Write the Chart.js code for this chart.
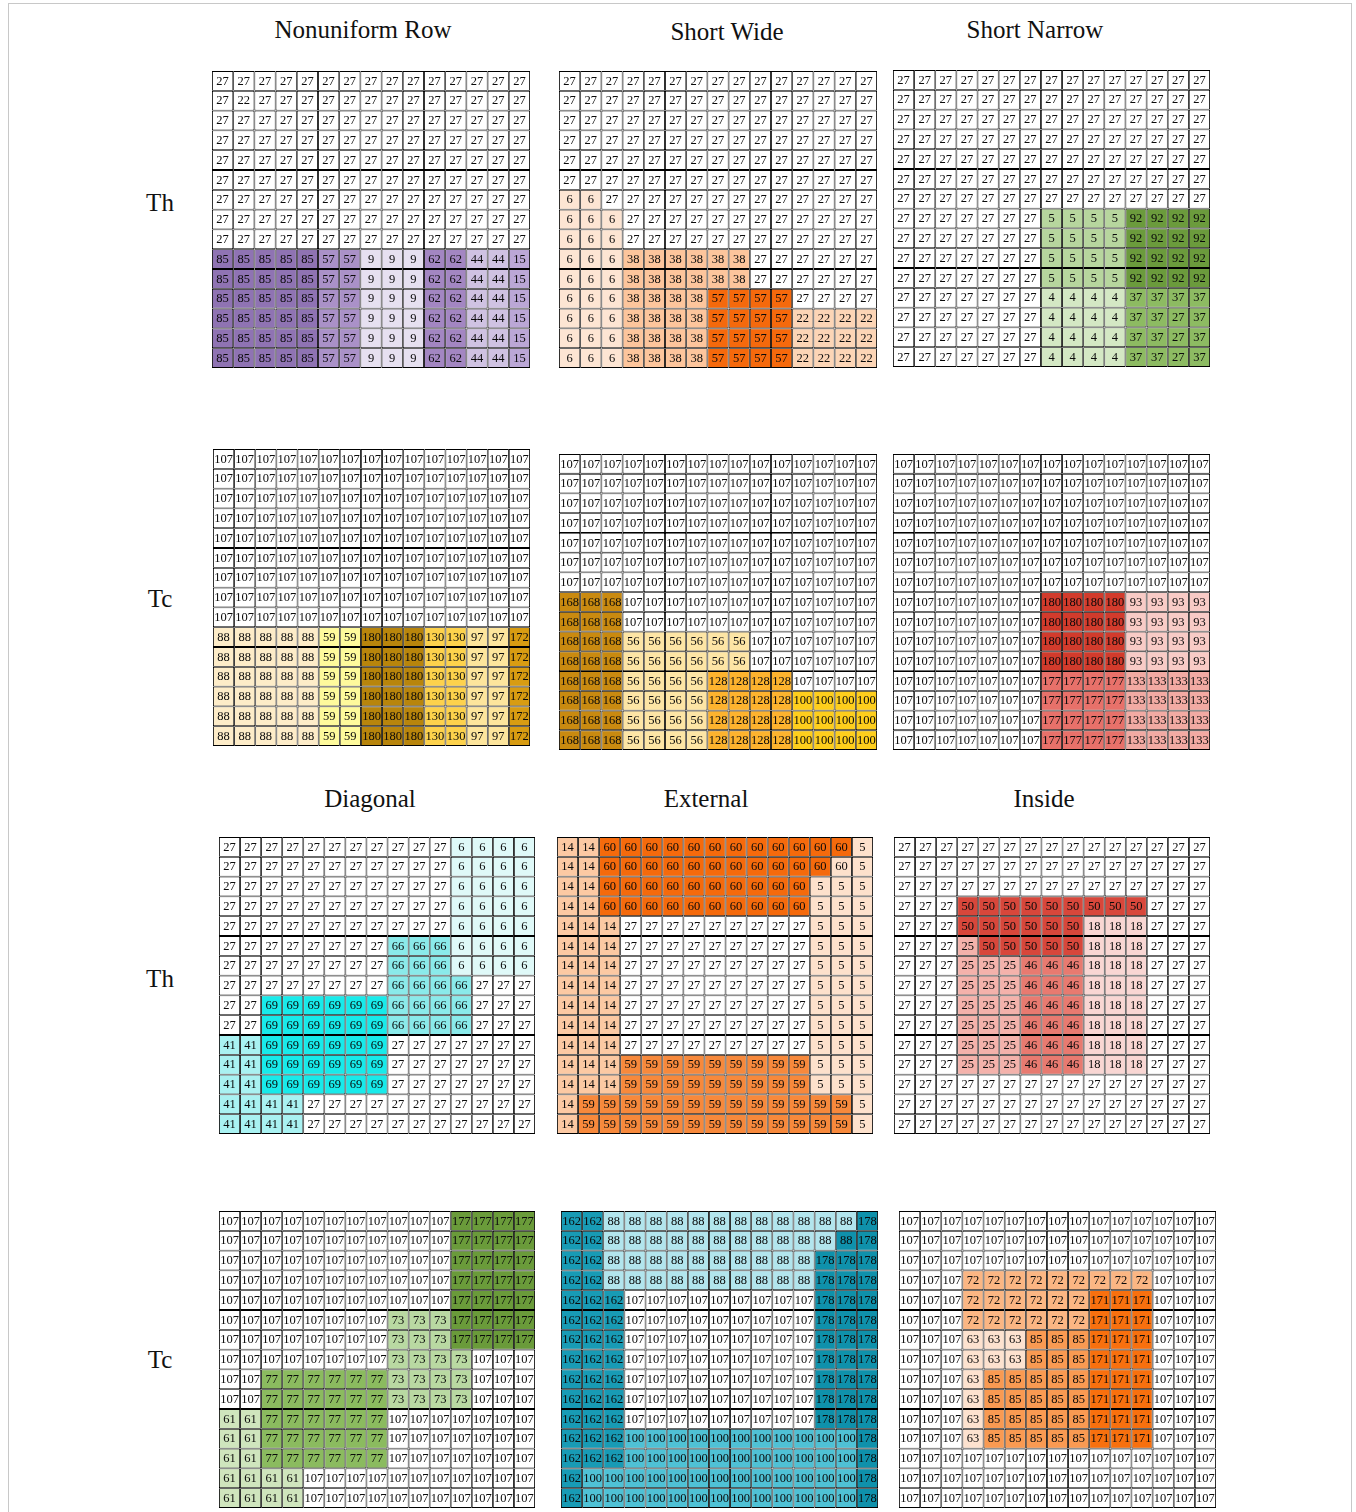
<!DOCTYPE html>
<html>
<head>
<meta charset="utf-8">
<script src="https://cdn.jsdelivr.net/npm/chart.js@4.4.1/dist/chart.umd.min.js"></script>
<style>
  html, body { margin: 0; padding: 0; background: #fff; }
  #page { position: relative; width: 1356px; height: 1512px; overflow: hidden; background: #fff; }
  #frame { position: absolute; left: 8px; top: 3px; width: 1342px; height: 1530px; border: 1px solid #c8c8c8; }
  .title { position: absolute; transform: translate(-50%, -50%); font-family: "Liberation Serif", "DejaVu Serif", serif; font-size: 25px; color: #111; white-space: nowrap; }
  canvas { position: absolute; }
</style>
</head>
<body>
<div id="page">
  <div id="frame"></div>
</div>
<script>
// ---- Column titles and row labels ----
const columnTitlesTop = ["Nonuniform Row", "Short Wide", "Short Narrow"];
const columnTitlesBottom = ["Diagonal", "External", "Inside"];
const rowLabels = ["Th", "Tc", "Th", "Tc"];

// ---- Cell values (15 rows x 15 columns each) ----
const nonuniformRowTh = [
  [27,27,27,27,27,27,27,27,27,27,27,27,27,27,27],
  [27,22,27,27,27,27,27,27,27,27,27,27,27,27,27],
  [27,27,27,27,27,27,27,27,27,27,27,27,27,27,27],
  [27,27,27,27,27,27,27,27,27,27,27,27,27,27,27],
  [27,27,27,27,27,27,27,27,27,27,27,27,27,27,27],
  [27,27,27,27,27,27,27,27,27,27,27,27,27,27,27],
  [27,27,27,27,27,27,27,27,27,27,27,27,27,27,27],
  [27,27,27,27,27,27,27,27,27,27,27,27,27,27,27],
  [27,27,27,27,27,27,27,27,27,27,27,27,27,27,27],
  [85,85,85,85,85,57,57,9,9,9,62,62,44,44,15],
  [85,85,85,85,85,57,57,9,9,9,62,62,44,44,15],
  [85,85,85,85,85,57,57,9,9,9,62,62,44,44,15],
  [85,85,85,85,85,57,57,9,9,9,62,62,44,44,15],
  [85,85,85,85,85,57,57,9,9,9,62,62,44,44,15],
  [85,85,85,85,85,57,57,9,9,9,62,62,44,44,15]
];
const shortWideTh = [
  [27,27,27,27,27,27,27,27,27,27,27,27,27,27,27],
  [27,27,27,27,27,27,27,27,27,27,27,27,27,27,27],
  [27,27,27,27,27,27,27,27,27,27,27,27,27,27,27],
  [27,27,27,27,27,27,27,27,27,27,27,27,27,27,27],
  [27,27,27,27,27,27,27,27,27,27,27,27,27,27,27],
  [27,27,27,27,27,27,27,27,27,27,27,27,27,27,27],
  [6,6,27,27,27,27,27,27,27,27,27,27,27,27,27],
  [6,6,6,27,27,27,27,27,27,27,27,27,27,27,27],
  [6,6,6,27,27,27,27,27,27,27,27,27,27,27,27],
  [6,6,6,38,38,38,38,38,38,27,27,27,27,27,27],
  [6,6,6,38,38,38,38,38,38,27,27,27,27,27,27],
  [6,6,6,38,38,38,38,57,57,57,57,27,27,27,27],
  [6,6,6,38,38,38,38,57,57,57,57,22,22,22,22],
  [6,6,6,38,38,38,38,57,57,57,57,22,22,22,22],
  [6,6,6,38,38,38,38,57,57,57,57,22,22,22,22]
];
const shortNarrowTh = [
  [27,27,27,27,27,27,27,27,27,27,27,27,27,27,27],
  [27,27,27,27,27,27,27,27,27,27,27,27,27,27,27],
  [27,27,27,27,27,27,27,27,27,27,27,27,27,27,27],
  [27,27,27,27,27,27,27,27,27,27,27,27,27,27,27],
  [27,27,27,27,27,27,27,27,27,27,27,27,27,27,27],
  [27,27,27,27,27,27,27,27,27,27,27,27,27,27,27],
  [27,27,27,27,27,27,27,27,27,27,27,27,27,27,27],
  [27,27,27,27,27,27,27,5,5,5,5,92,92,92,92],
  [27,27,27,27,27,27,27,5,5,5,5,92,92,92,92],
  [27,27,27,27,27,27,27,5,5,5,5,92,92,92,92],
  [27,27,27,27,27,27,27,5,5,5,5,92,92,92,92],
  [27,27,27,27,27,27,27,4,4,4,4,37,37,37,37],
  [27,27,27,27,27,27,27,4,4,4,4,37,37,27,37],
  [27,27,27,27,27,27,27,4,4,4,4,37,37,27,37],
  [27,27,27,27,27,27,27,4,4,4,4,37,37,27,37]
];
const nonuniformRowTc = [
  [107,107,107,107,107,107,107,107,107,107,107,107,107,107,107],
  [107,107,107,107,107,107,107,107,107,107,107,107,107,107,107],
  [107,107,107,107,107,107,107,107,107,107,107,107,107,107,107],
  [107,107,107,107,107,107,107,107,107,107,107,107,107,107,107],
  [107,107,107,107,107,107,107,107,107,107,107,107,107,107,107],
  [107,107,107,107,107,107,107,107,107,107,107,107,107,107,107],
  [107,107,107,107,107,107,107,107,107,107,107,107,107,107,107],
  [107,107,107,107,107,107,107,107,107,107,107,107,107,107,107],
  [107,107,107,107,107,107,107,107,107,107,107,107,107,107,107],
  [88,88,88,88,88,59,59,180,180,180,130,130,97,97,172],
  [88,88,88,88,88,59,59,180,180,180,130,130,97,97,172],
  [88,88,88,88,88,59,59,180,180,180,130,130,97,97,172],
  [88,88,88,88,88,59,59,180,180,180,130,130,97,97,172],
  [88,88,88,88,88,59,59,180,180,180,130,130,97,97,172],
  [88,88,88,88,88,59,59,180,180,180,130,130,97,97,172]
];
const shortWideTc = [
  [107,107,107,107,107,107,107,107,107,107,107,107,107,107,107],
  [107,107,107,107,107,107,107,107,107,107,107,107,107,107,107],
  [107,107,107,107,107,107,107,107,107,107,107,107,107,107,107],
  [107,107,107,107,107,107,107,107,107,107,107,107,107,107,107],
  [107,107,107,107,107,107,107,107,107,107,107,107,107,107,107],
  [107,107,107,107,107,107,107,107,107,107,107,107,107,107,107],
  [107,107,107,107,107,107,107,107,107,107,107,107,107,107,107],
  [168,168,168,107,107,107,107,107,107,107,107,107,107,107,107],
  [168,168,168,107,107,107,107,107,107,107,107,107,107,107,107],
  [168,168,168,56,56,56,56,56,56,107,107,107,107,107,107],
  [168,168,168,56,56,56,56,56,56,107,107,107,107,107,107],
  [168,168,168,56,56,56,56,128,128,128,128,107,107,107,107],
  [168,168,168,56,56,56,56,128,128,128,128,100,100,100,100],
  [168,168,168,56,56,56,56,128,128,128,128,100,100,100,100],
  [168,168,168,56,56,56,56,128,128,128,128,100,100,100,100]
];
const shortNarrowTc = [
  [107,107,107,107,107,107,107,107,107,107,107,107,107,107,107],
  [107,107,107,107,107,107,107,107,107,107,107,107,107,107,107],
  [107,107,107,107,107,107,107,107,107,107,107,107,107,107,107],
  [107,107,107,107,107,107,107,107,107,107,107,107,107,107,107],
  [107,107,107,107,107,107,107,107,107,107,107,107,107,107,107],
  [107,107,107,107,107,107,107,107,107,107,107,107,107,107,107],
  [107,107,107,107,107,107,107,107,107,107,107,107,107,107,107],
  [107,107,107,107,107,107,107,180,180,180,180,93,93,93,93],
  [107,107,107,107,107,107,107,180,180,180,180,93,93,93,93],
  [107,107,107,107,107,107,107,180,180,180,180,93,93,93,93],
  [107,107,107,107,107,107,107,180,180,180,180,93,93,93,93],
  [107,107,107,107,107,107,107,177,177,177,177,133,133,133,133],
  [107,107,107,107,107,107,107,177,177,177,177,133,133,133,133],
  [107,107,107,107,107,107,107,177,177,177,177,133,133,133,133],
  [107,107,107,107,107,107,107,177,177,177,177,133,133,133,133]
];
const diagonalTh = [
  [27,27,27,27,27,27,27,27,27,27,27,6,6,6,6],
  [27,27,27,27,27,27,27,27,27,27,27,6,6,6,6],
  [27,27,27,27,27,27,27,27,27,27,27,6,6,6,6],
  [27,27,27,27,27,27,27,27,27,27,27,6,6,6,6],
  [27,27,27,27,27,27,27,27,27,27,27,6,6,6,6],
  [27,27,27,27,27,27,27,27,66,66,66,6,6,6,6],
  [27,27,27,27,27,27,27,27,66,66,66,6,6,6,6],
  [27,27,27,27,27,27,27,27,66,66,66,66,27,27,27],
  [27,27,69,69,69,69,69,69,66,66,66,66,27,27,27],
  [27,27,69,69,69,69,69,69,66,66,66,66,27,27,27],
  [41,41,69,69,69,69,69,69,27,27,27,27,27,27,27],
  [41,41,69,69,69,69,69,69,27,27,27,27,27,27,27],
  [41,41,69,69,69,69,69,69,27,27,27,27,27,27,27],
  [41,41,41,41,27,27,27,27,27,27,27,27,27,27,27],
  [41,41,41,41,27,27,27,27,27,27,27,27,27,27,27]
];
const externalTh = [
  [14,14,60,60,60,60,60,60,60,60,60,60,60,60,5],
  [14,14,60,60,60,60,60,60,60,60,60,60,60,60,5],
  [14,14,60,60,60,60,60,60,60,60,60,60,5,5,5],
  [14,14,60,60,60,60,60,60,60,60,60,60,5,5,5],
  [14,14,14,27,27,27,27,27,27,27,27,27,5,5,5],
  [14,14,14,27,27,27,27,27,27,27,27,27,5,5,5],
  [14,14,14,27,27,27,27,27,27,27,27,27,5,5,5],
  [14,14,14,27,27,27,27,27,27,27,27,27,5,5,5],
  [14,14,14,27,27,27,27,27,27,27,27,27,5,5,5],
  [14,14,14,27,27,27,27,27,27,27,27,27,5,5,5],
  [14,14,14,27,27,27,27,27,27,27,27,27,5,5,5],
  [14,14,14,59,59,59,59,59,59,59,59,59,5,5,5],
  [14,14,14,59,59,59,59,59,59,59,59,59,5,5,5],
  [14,59,59,59,59,59,59,59,59,59,59,59,59,59,5],
  [14,59,59,59,59,59,59,59,59,59,59,59,59,59,5]
];
const insideTh = [
  [27,27,27,27,27,27,27,27,27,27,27,27,27,27,27],
  [27,27,27,27,27,27,27,27,27,27,27,27,27,27,27],
  [27,27,27,27,27,27,27,27,27,27,27,27,27,27,27],
  [27,27,27,50,50,50,50,50,50,50,50,50,27,27,27],
  [27,27,27,50,50,50,50,50,50,18,18,18,27,27,27],
  [27,27,27,25,50,50,50,50,50,18,18,18,27,27,27],
  [27,27,27,25,25,25,46,46,46,18,18,18,27,27,27],
  [27,27,27,25,25,25,46,46,46,18,18,18,27,27,27],
  [27,27,27,25,25,25,46,46,46,18,18,18,27,27,27],
  [27,27,27,25,25,25,46,46,46,18,18,18,27,27,27],
  [27,27,27,25,25,25,46,46,46,18,18,18,27,27,27],
  [27,27,27,25,25,25,46,46,46,18,18,18,27,27,27],
  [27,27,27,27,27,27,27,27,27,27,27,27,27,27,27],
  [27,27,27,27,27,27,27,27,27,27,27,27,27,27,27],
  [27,27,27,27,27,27,27,27,27,27,27,27,27,27,27]
];
const diagonalTc = [
  [107,107,107,107,107,107,107,107,107,107,107,177,177,177,177],
  [107,107,107,107,107,107,107,107,107,107,107,177,177,177,177],
  [107,107,107,107,107,107,107,107,107,107,107,177,177,177,177],
  [107,107,107,107,107,107,107,107,107,107,107,177,177,177,177],
  [107,107,107,107,107,107,107,107,107,107,107,177,177,177,177],
  [107,107,107,107,107,107,107,107,73,73,73,177,177,177,177],
  [107,107,107,107,107,107,107,107,73,73,73,177,177,177,177],
  [107,107,107,107,107,107,107,107,73,73,73,73,107,107,107],
  [107,107,77,77,77,77,77,77,73,73,73,73,107,107,107],
  [107,107,77,77,77,77,77,77,73,73,73,73,107,107,107],
  [61,61,77,77,77,77,77,77,107,107,107,107,107,107,107],
  [61,61,77,77,77,77,77,77,107,107,107,107,107,107,107],
  [61,61,77,77,77,77,77,77,107,107,107,107,107,107,107],
  [61,61,61,61,107,107,107,107,107,107,107,107,107,107,107],
  [61,61,61,61,107,107,107,107,107,107,107,107,107,107,107]
];
const externalTc = [
  [162,162,88,88,88,88,88,88,88,88,88,88,88,88,178],
  [162,162,88,88,88,88,88,88,88,88,88,88,88,88,178],
  [162,162,88,88,88,88,88,88,88,88,88,88,178,178,178],
  [162,162,88,88,88,88,88,88,88,88,88,88,178,178,178],
  [162,162,162,107,107,107,107,107,107,107,107,107,178,178,178],
  [162,162,162,107,107,107,107,107,107,107,107,107,178,178,178],
  [162,162,162,107,107,107,107,107,107,107,107,107,178,178,178],
  [162,162,162,107,107,107,107,107,107,107,107,107,178,178,178],
  [162,162,162,107,107,107,107,107,107,107,107,107,178,178,178],
  [162,162,162,107,107,107,107,107,107,107,107,107,178,178,178],
  [162,162,162,107,107,107,107,107,107,107,107,107,178,178,178],
  [162,162,162,100,100,100,100,100,100,100,100,100,100,100,178],
  [162,162,162,100,100,100,100,100,100,100,100,100,100,100,178],
  [162,100,100,100,100,100,100,100,100,100,100,100,100,100,178],
  [162,100,100,100,100,100,100,100,100,100,100,100,100,100,178]
];
const insideTc = [
  [107,107,107,107,107,107,107,107,107,107,107,107,107,107,107],
  [107,107,107,107,107,107,107,107,107,107,107,107,107,107,107],
  [107,107,107,107,107,107,107,107,107,107,107,107,107,107,107],
  [107,107,107,72,72,72,72,72,72,72,72,72,107,107,107],
  [107,107,107,72,72,72,72,72,72,171,171,171,107,107,107],
  [107,107,107,72,72,72,72,72,72,171,171,171,107,107,107],
  [107,107,107,63,63,63,85,85,85,171,171,171,107,107,107],
  [107,107,107,63,63,63,85,85,85,171,171,171,107,107,107],
  [107,107,107,63,85,85,85,85,85,171,171,171,107,107,107],
  [107,107,107,63,85,85,85,85,85,171,171,171,107,107,107],
  [107,107,107,63,85,85,85,85,85,171,171,171,107,107,107],
  [107,107,107,63,85,85,85,85,85,171,171,171,107,107,107],
  [107,107,107,107,107,107,107,107,107,107,107,107,107,107,107],
  [107,107,107,107,107,107,107,107,107,107,107,107,107,107,107],
  [107,107,107,107,107,107,107,107,107,107,107,107,107,107,107]
];

// ---- Fill colours per value, one palette per panel (unlisted values stay white) ----
const palettes = {
  nonuniformRowTh: {85:'#8f73b3', 57:'#aa91c8', 9:'#e6e0f0', 62:'#a386c2', 44:'#cfc2e2', 15:'#bba7d6'},
  shortWideTh:     {6:'#fde5d3', 38:'#fdc59c', 57:'#f5690c', 22:'#fcd5b6'},
  shortNarrowTh:   {5:'#b7d69e', 92:'#6b9b3c', 4:'#d4e8c4', 37:'#8dbb62'},
  nonuniformRowTc: {88:'#fdecc8', 59:'#fefa9c', 180:'#b8850c', 130:'#fdd24c', 97:'#fde59c', 172:'#d89c12'},
  shortWideTc:     {168:'#c98a10', 56:'#fde5a5', 128:'#fdb32e', 100:'#fece1c'},
  shortNarrowTc:   {180:'#d23b2c', 93:'#f8cbc6', 177:'#e8716a', 133:'#f2aaa3'},
  diagonalTh:      {6:'#dff9f8', 66:'#8aeaea', 69:'#18eaea', 41:'#a9f2f2'},
  externalTh:      {14:'#fcc9a3', 60:'#f56a0c', 5:'#fde1cc', 59:'#f7893c'},
  insideTh:        {50:'#d8473b', 18:'#f9d6d3', 25:'#f4b2ab', 46:'#e87a70'},
  diagonalTc:      {177:'#6a9b3a', 73:'#b9d9a2', 77:'#8bbb5f', 61:'#cfe5bd'},
  externalTc:      {162:'#189bb5', 88:'#b2e5ed', 178:'#0f91ab', 100:'#4fc1d5'},
  insideTc:        {72:'#fbb683', 171:'#f8700e', 63:'#fde2cf', 85:'#f99a52'}
};
// Cells whose fill follows a neighbouring region rather than their own value
const fillOverrides = {
  shortNarrowTh: [[12, 13, 37], [13, 13, 37], [14, 13, 37]],
  externalTh:    [[1, 13, 5]],
  externalTc:    [[1, 13, 178]]
};

// ---- Panel placement on the page ----
const panels = [
  {key:'nonuniformRowTh', values:nonuniformRowTh, x:212, y:71,   w:318, h:297},
  {key:'shortWideTh',     values:shortWideTh,     x:559, y:71,   w:318, h:297},
  {key:'shortNarrowTh',   values:shortNarrowTh,   x:893, y:70,   w:317, h:297},
  {key:'nonuniformRowTc', values:nonuniformRowTc, x:213, y:449,  w:317, h:297},
  {key:'shortWideTc',     values:shortWideTc,     x:559, y:454,  w:318, h:296},
  {key:'shortNarrowTc',   values:shortNarrowTc,   x:893, y:454,  w:317, h:296},
  {key:'diagonalTh',      values:diagonalTh,      x:219, y:837,  w:316, h:297},
  {key:'externalTh',      values:externalTh,      x:557, y:837,  w:316, h:297},
  {key:'insideTh',        values:insideTh,        x:894, y:837,  w:316, h:297},
  {key:'diagonalTc',      values:diagonalTc,      x:219, y:1211, w:316, h:297},
  {key:'externalTc',      values:externalTc,      x:561, y:1211, w:317, h:297},
  {key:'insideTc',        values:insideTc,        x:899, y:1211, w:317, h:297}
];

const page = document.getElementById('page');

function addText(text, cx, cy) {
  const d = document.createElement('div');
  d.className = 'title';
  d.textContent = text;
  d.style.left = cx + 'px';
  d.style.top = cy + 'px';
  page.appendChild(d);
}
const topTitlePos = [[363, 30], [727, 32], [1035, 30]];
const bottomTitlePos = [[370, 799], [706, 799], [1044, 799]];
const rowLabelPos = [[160, 203], [160, 599], [160, 979], [160, 1360]];
columnTitlesTop.forEach((t, i) => addText(t, topTitlePos[i][0], topTitlePos[i][1]));
columnTitlesBottom.forEach((t, i) => addText(t, bottomTitlePos[i][0], bottomTitlePos[i][1]));
rowLabels.forEach((t, i) => addText(t, rowLabelPos[i][0], rowLabelPos[i][1]));

// Writes each cell's value at the centre of its bar
const cellLabels = {
  id: 'cellLabels',
  afterDatasetsDraw(chart) {
    const ctx = chart.ctx;
    const grid = chart.options.plugins.cellLabels.values;
    ctx.save();
    ctx.fillStyle = '#0a0a0a';
    ctx.font = '12.5px "Liberation Serif", "DejaVu Serif", serif';
    ctx.textAlign = 'center';
    ctx.textBaseline = 'middle';
    chart.data.datasets.forEach((ds, r) => {
      chart.getDatasetMeta(r).data.forEach((bar, c) => {
        const cy = (bar.y + bar.base) / 2;
        ctx.fillText(String(grid[r][c]), bar.x, cy + 0.5);
      });
    });
    ctx.restore();
  }
};

panels.forEach(p => {
  const canvas = document.createElement('canvas');
  const pad = 1;
  canvas.width = p.w + pad * 2;
  canvas.height = p.h + pad * 2;
  canvas.style.left = (p.x - pad) + 'px';
  canvas.style.top = (p.y - pad) + 'px';
  canvas.style.width = canvas.width + 'px';
  canvas.style.height = canvas.height + 'px';
  page.appendChild(canvas);

  const palette = palettes[p.key];
  const overrides = fillOverrides[p.key] || [];
  const nCols = p.values[0].length;
  const columns = Array.from({length: nCols}, (_, c) => String(c + 1));

  // One floating-bar dataset per grid row; each bar spans that row's band on the y axis
  const datasets = p.values.map((row, r) => {
    const colors = row.map((v, c) => {
      const ov = overrides.find(o => o[0] === r && o[1] === c);
      const key = ov ? ov[2] : v;
      return palette[key] || '#ffffff';
    });
    return {
      data: row.map(() => [r, r + 1]),
      backgroundColor: colors,
      borderColor: '#000000',
      borderWidth: 0.9,
      borderSkipped: false,
      grouped: false,
      barPercentage: 1,
      categoryPercentage: 1,
      inflateAmount: 0
    };
  });

  new Chart(canvas, {
    type: 'bar',
    data: { labels: columns, datasets },
    options: {
      responsive: false,
      animation: false,
      devicePixelRatio: 1,
      layout: { padding: pad },
      events: [],
      plugins: {
        legend: { display: false },
        tooltip: { enabled: false },
        cellLabels: { values: p.values }
      },
      scales: {
        x: { type: 'category', display: false, offset: true, grid: { display: false } },
        y: { type: 'linear', display: false, min: 0, max: p.values.length, reverse: true }
      }
    },
    plugins: [cellLabels]
  });
});
</script>
</body>
</html>
